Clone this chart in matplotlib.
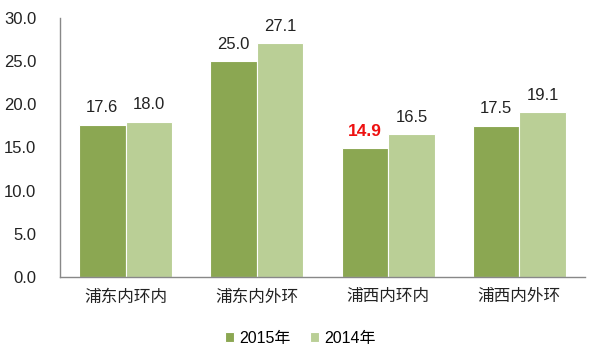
import matplotlib
matplotlib.use("Agg")
import matplotlib.pyplot as plt
import numpy as np

plt.rcParams['font.family'] = ['Liberation Sans', 'Noto Sans CJK SC', 'DejaVu Sans']

categories = ["浦东内环内", "浦东内外环", "浦西内环内", "浦西内外环"]
v2015 = [17.6, 25.0, 14.9, 17.5]
v2014 = [18.0, 27.1, 16.5, 19.1]
yticks = [0, 5, 10, 15, 20, 25, 30]

dark = "#8ba752"
light = "#bacf96"

fig = plt.figure(figsize=(6, 3.6), dpi=100)
ax = fig.add_axes([0.1, 0.231, 0.875, 0.719])

x = np.arange(len(categories))
w = 0.355
b1 = ax.bar(x - w / 2, v2015, w, color=dark, edgecolor="white", linewidth=0.8, label="2015年")
b2 = ax.bar(x + w / 2, v2014, w, color=light, edgecolor="white", linewidth=0.8, label="2014年")

for i, (r, v) in enumerate(zip(b1, v2015)):
    if i == 2:
        ax.text(r.get_x() + r.get_width() / 2, v + 1.1, f"{v:.1f}", ha="center", va="bottom",
                fontsize=12.5, color="#ee1111", fontweight="bold")
    else:
        ax.text(r.get_x() + r.get_width() / 2, v + 1.1, f"{v:.1f}", ha="center", va="bottom",
                fontsize=12, color="#222222")
for r, v in zip(b2, v2014):
    ax.text(r.get_x() + r.get_width() / 2, v + 1.1, f"{v:.1f}", ha="center", va="bottom",
            fontsize=12, color="#222222")

ax.set_xlim(-0.5, 3.5)
ax.set_ylim(0, 30)
ax.set_yticks(yticks)
ax.set_yticklabels([f"{t:.1f}" for t in yticks], fontsize=12, color="#222222")
ax.set_xticks(x)
ax.set_xticklabels(categories, fontsize=12, color="#222222")
ax.tick_params(axis="x", length=0, pad=9)
ax.tick_params(axis="y", length=0, pad=17)
for s in ["top", "right"]:
    ax.spines[s].set_visible(False)
for s in ["left", "bottom"]:
    ax.spines[s].set_color("#888888")
    ax.spines[s].set_linewidth(1)

fig.legend(handles=[b1, b2], loc="lower center", bbox_to_anchor=(0.5, 0.0), ncol=2,
           frameon=False, fontsize=11.5, handlelength=0.6, handleheight=0.6,
           handletextpad=0.3, columnspacing=1.2)

fig.savefig("out.png", dpi=100)
